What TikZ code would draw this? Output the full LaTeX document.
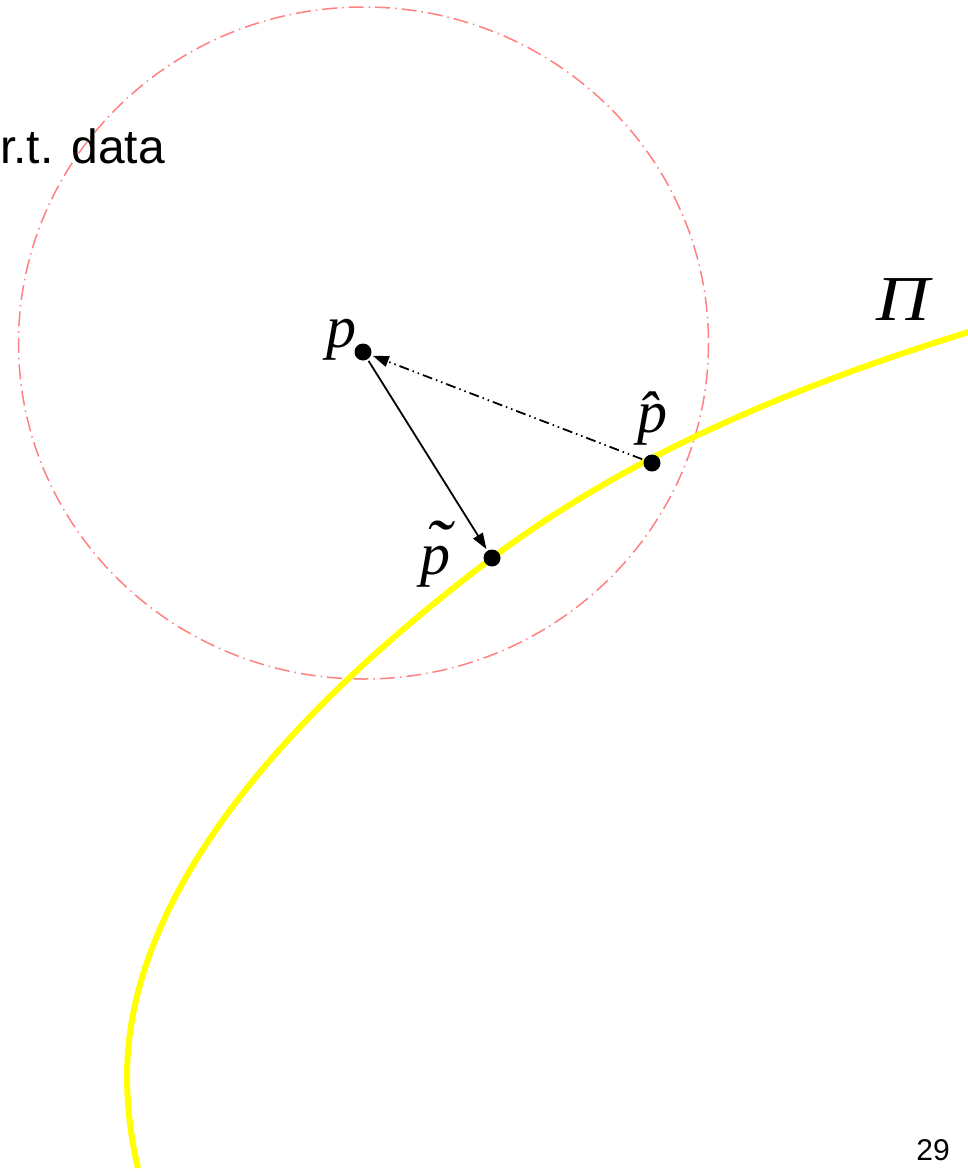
\documentclass[tikz,border=0pt]{standalone}
\usepackage{fontspec}
\setmainfont{Liberation Sans}
\newfontfamily\mathfont{Liberation Serif}
\usetikzlibrary{arrows.meta}
\definecolor{circred}{RGB}{255,128,128}
\definecolor{curveyellow}{RGB}{255,255,0}
\begin{document}
\begin{tikzpicture}[x=1pt,y=-1pt,
  dotnode/.style={circle,fill=black,inner sep=0pt,minimum size=17pt,outer sep=2pt},
  lbl/.style={inner sep=0pt,font=\mathfont\itshape\fontsize{60}{60}\selectfont},
  arrowline/.style={line width=1.8pt,-{Triangle[length=16pt,width=11pt]}},
  ddot/.style={dash pattern=on 10pt off 4pt on 1.5pt off 4pt on 1.5pt off 4pt}]
\useasboundingbox (0,0) rectangle (968,1172);
\clip (0,0) rectangle (968,1172);
% circle
\draw[circred,line width=1.5pt,dash pattern=on 15pt off 5pt on 1.5pt off 5pt]
  (363.5,343) ellipse [x radius=345, y radius=336];
% curve
\draw[curveyellow,line width=6pt]
  (138,1168) .. controls (131,1140) and (127,1105) .. (127,1077)
  .. controls (127,877) and (316.4,690.7) .. (492,558)
  .. controls (632,452.5) and (801,383.8) .. (972,331);
% text
\node[anchor=base west,inner sep=0pt,font=\fontsize{48}{48}\selectfont] (txt) at (0,163) {r.t. data};
\node[anchor=base,inner sep=0pt,font=\fontsize{30}{30}\selectfont] (pg) at (933,1160) {29};
% points
\node[dotnode] (p) at (363,352) {};
\node[dotnode] (ph) at (652,463) {};
\node[dotnode] (pt) at (492,558) {};
% arrows
\draw[arrowline] (p) -- (pt);
\draw[arrowline,ddot] (ph) -- (p);
% labels
\node[lbl,anchor=base east] (lp) at (357,347) {p};
\node[lbl,anchor=base] (lph) at (652,432) {\^{p}};
\node[lbl,anchor=base west] (lpt) at (420.5,574) {p\llap{\raisebox{5pt}{\scalebox{1.3}[1.2]{˜}}\hspace{0pt}}};
\node[lbl,anchor=base,font=\mathfont\itshape\fontsize{64}{64}\selectfont] (lpi) at (903,320) {\scalebox{1.15}[1]{Π}};
\end{tikzpicture}
\end{document}
